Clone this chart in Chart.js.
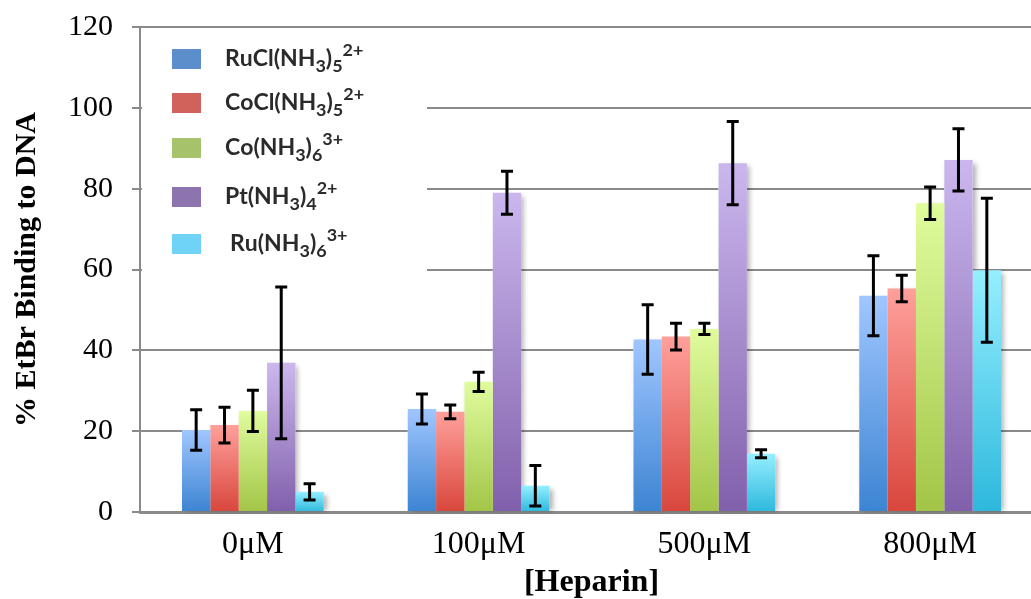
<!DOCTYPE html>
<html>
<head>
<meta charset="utf-8">
<script src="https://cdn.jsdelivr.net/npm/chart.js@4/dist/chart.umd.min.js"></script>
<style>
html, body { margin: 0; padding: 0; overflow: hidden; background: #fff; }
#wrap { width: 1043px; height: 599px; }
</style>
</head>
<body>
<div id="wrap"><canvas id="myChart" width="1043" height="599"></canvas></div>
<script>
// data
var categories = ['0μM', '100μM', '500μM', '800μM'];
var seriesNames = ['RuCl(NH₃)₅²⁺', 'CoCl(NH₃)₅²⁺', 'Co(NH₃)₆³⁺', 'Pt(NH₃)₄²⁺', 'Ru(NH₃)₆³⁺'];

var ruClValues = [20.3, 25.5, 42.7, 53.5];
var ruClErrors = [5.0, 3.7, 8.6, 9.9];
var coClValues = [21.5, 24.8, 43.4, 55.3];
var coClErrors = [4.4, 1.7, 3.3, 3.3];
var coValues = [25.0, 32.2, 45.3, 76.4];
var coErrors = [5.1, 2.4, 1.4, 4.0];
var ptValues = [36.9, 79.0, 86.3, 87.1];
var ptErrors = [18.8, 5.3, 10.3, 7.7];
var ruValues = [5.0, 6.5, 14.4, 59.8];
var ruErrors = [2.0, 5.0, 1.0, 17.8];

var yTicks = [0, 20, 40, 60, 80, 100, 120];

// colours: [top of bar, bottom of bar, legend swatch]
var colours = [
    ['#a0c6ff', '#3c84d2', '#5b8ecb'],
    ['#ffa09b', '#d8463c', '#d0615b'],
    ['#e0fc9e', '#a2c547', '#a6c26b'],
    ['#cbb7ee', '#8160ab', '#8d74ae'],
    ['#95efff', '#2db8dc', '#6fd3f7']
];

function barFill(top, bottom) {
    return function(c) {
        var chart = c.chart;
        if (c.type !== 'data' || !chart.scales.y) return bottom;
        var y = chart.scales.y;
        var y0 = y.getPixelForValue(c.raw), y1 = y.getPixelForValue(0);
        if (!isFinite(y0) || !isFinite(y1) || y0 === y1) return bottom;
        var g = chart.ctx.createLinearGradient(0, y0, 0, y1);
        g.addColorStop(0, top);
        g.addColorStop(1, bottom);
        return g;
    };
}

var allValues = [ruClValues, coClValues, coValues, ptValues, ruValues];
var allErrors = [ruClErrors, coClErrors, coErrors, ptErrors, ruErrors];

var datasets = allValues.map(function(vals, i) {
    return {
        label: seriesNames[i],
        data: vals,
        errorBars: allErrors[i],
        swatch: colours[i][2],
        backgroundColor: barFill(colours[i][0], colours[i][1]),
        borderWidth: 0
    };
});

// soft shadow on the right of each bar
var shadowPlugin = {
    id: 'barShadow',
    beforeDatasetsDraw: function(chart) {
        var ctx = chart.ctx;
        ctx.save();
        ctx.shadowColor = 'rgba(0,0,0,0.3)';
        ctx.shadowBlur = 5;
        ctx.shadowOffsetX = 3;
        ctx.fillStyle = '#fff';
        chart.data.datasets.forEach(function(ds, i) {
            chart.getDatasetMeta(i).data.forEach(function(bar) {
                ctx.fillRect(bar.x - bar.width / 2, bar.y + 3, bar.width, bar.base - bar.y - 3);
            });
        });
        ctx.restore();
    }
};

// text with unicode sub/superscripts drawn as small raised/lowered digits
function drawRich(ctx, str, x, y, size, family) {
    var sub = '₀₁₂₃₄₅₆₇₈₉', sup = '⁰¹²³⁴⁵⁶⁷⁸⁹⁺', plain = '0123456789+';
    for (var k = 0; k < str.length; k++) {
        var ch = str[k], dy = 0, fs = size;
        if (sub.indexOf(ch) >= 0) { ch = plain[sub.indexOf(ch)]; fs = size * 0.78; dy = size * 0.3; }
        else if (sup.indexOf(ch) >= 0) { ch = plain[sup.indexOf(ch)]; fs = size * 0.78; dy = -size * 0.38; }
        ctx.font = 'bold ' + fs + 'px ' + family;
        ctx.fillText(ch, x, y + dy);
        x += ctx.measureText(ch).width;
    }
}

var legendPlugin = {
    id: 'insideLegend',
    beforeDatasetsDraw: function(chart) {
        var ctx = chart.ctx;
        ctx.save();
        ctx.fillStyle = '#fff';
        ctx.fillRect(142, 30, 285, 246);
        ctx.filter = 'blur(0.7px)';
        var rows = [59, 103, 148, 197, 244];
        chart.data.datasets.forEach(function(ds, i) {
            ctx.fillStyle = ds.swatch;
            ctx.fillRect(172, rows[i] - 10, 29, 20);
            ctx.fillStyle = '#2a2a2a';
            ctx.textBaseline = 'middle';
            drawRich(ctx, ds.label, i === 4 ? 230 : 225, rows[i], 23, 'Lato');
        });
        ctx.restore();
    }
};

var errorPlugin = {
    id: 'errorBars',
    afterDatasetsDraw: function(chart) {
        var ctx = chart.ctx, y = chart.scales.y;
        ctx.save();
        ctx.strokeStyle = '#000';
        ctx.lineWidth = 3;
        chart.data.datasets.forEach(function(ds, i) {
            chart.getDatasetMeta(i).data.forEach(function(bar, j) {
                var v = ds.data[j], e = ds.errorBars[j];
                var top = y.getPixelForValue(v + e), bot = y.getPixelForValue(v - e);
                ctx.beginPath();
                ctx.moveTo(bar.x, top); ctx.lineTo(bar.x, bot);
                ctx.moveTo(bar.x - 6, top); ctx.lineTo(bar.x + 6, top);
                ctx.moveTo(bar.x - 6, bot); ctx.lineTo(bar.x + 6, bot);
                ctx.stroke();
            });
        });
        ctx.restore();
    }
};

var ctx = document.getElementById('myChart').getContext('2d');
var myBarChart = new Chart(ctx, {
    type: 'bar',
    data: {
        labels: categories,
        datasets: datasets
    },
    options: {
        responsive: false,
        animation: false,
        layout: { padding: { top: 27, left: 0, right: 0, bottom: 0 } },
        datasets: { bar: { categoryPercentage: 0.628, barPercentage: 1.0 } },
        plugins: { legend: { display: false }, tooltip: { enabled: false } },
        scales: {
            x: {
                grid: { display: false, drawTicks: false },
                border: { color: '#8a8a8a', width: 3 },
                ticks: { color: '#000', padding: 13, font: { family: 'Liberation Serif', size: 32 } },
                title: {
                    display: true, text: '[Heparin]', color: '#000',
                    padding: { top: 0, bottom: -3 },
                    font: { family: 'Liberation Serif', size: 32, weight: 'bold' }
                },
                afterFit: function(s) { s.height = 87; s.paddingLeft = 0; s.paddingRight = 0; }
            },
            y: {
                min: 0, max: 120,
                afterBuildTicks: function(s) { s.ticks = yTicks.map(function(v) { return { value: v }; }); },
                grid: { color: '#8a8a8a', lineWidth: 2, tickLength: 8 },
                border: { color: '#8a8a8a', width: 2 },
                ticks: { color: '#000', padding: 19, font: { family: 'Liberation Serif', size: 30 } },
                title: {
                    display: true, text: '% EtBr Binding to DNA', color: '#000',
                    padding: { top: 9, bottom: 0 },
                    font: { family: 'Liberation Serif', size: 30, weight: 'bold' }
                },
                afterFit: function(s) { s.width = 140; s.paddingTop = 0; s.paddingBottom = 0; }
            }
        }
    },
    plugins: [shadowPlugin, legendPlugin, errorPlugin]
});
</script>
</body>
</html>
